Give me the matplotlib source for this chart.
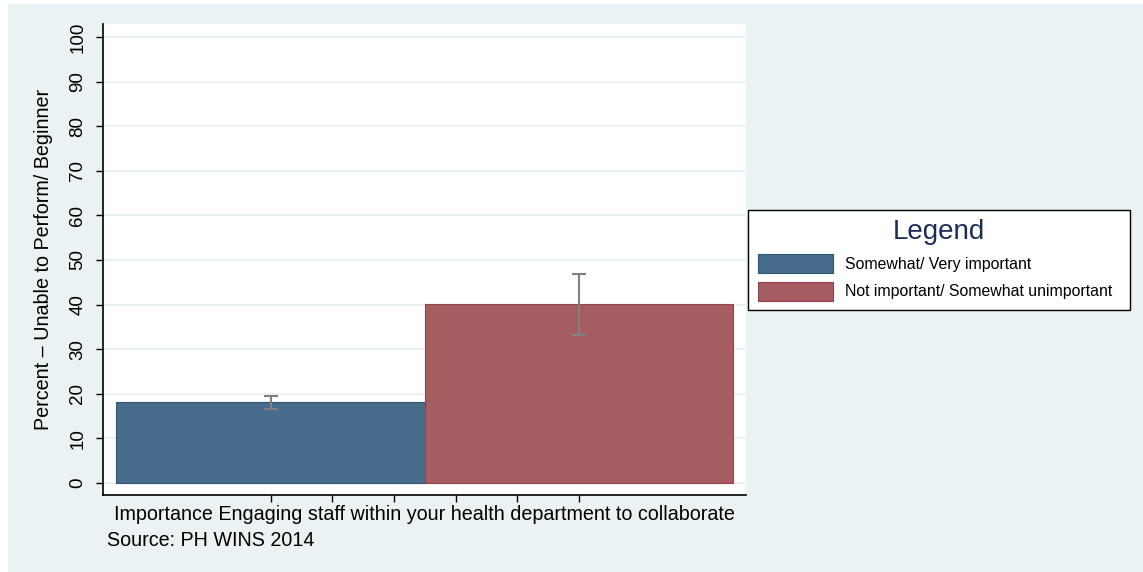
import matplotlib
matplotlib.use("Agg")
import matplotlib.pyplot as plt
from matplotlib.patches import Rectangle, Patch

plt.rcParams["font.family"] = ["Liberation Sans", "DejaVu Sans"]

# data
groups = ["Somewhat/ Very important", "Not important/ Somewhat unimportant"]
xpos = [1, 2]
values = [18.1, 40.1]
ci_low = [16.7, 33.2]
ci_high = [19.5, 46.9]
yticks = [0, 10, 20, 30, 40, 50, 60, 70, 80, 90, 100]
xticks = [1.0, 1.2, 1.4, 1.6, 1.8, 2.0]

face = ["#486c8c", "#a65d62"]
edge = ["#2f5677", "#93414a"]
bg = "#eaf2f3"

W, H = 1143, 572
fig = plt.figure(figsize=(W / 100, H / 100), dpi=100, facecolor="white")
fig.patches.append(Rectangle((8 / W, 0), 1 - 8 / W, 1 - 4 / H,
                             transform=fig.transFigure, facecolor=bg,
                             edgecolor="none", zorder=-10))

ax = fig.add_axes([103 / W, 1 - 495 / H, (746 - 103) / W, (495 - 24) / H])
ax.set_facecolor("white")

for i in range(len(values)):
    ax.bar(xpos[i], values[i], width=1.0, color=face[i], edgecolor=edge[i],
           linewidth=0.8, zorder=2, label=groups[i])
    ax.errorbar(xpos[i], values[i],
                yerr=[[values[i] - ci_low[i]], [ci_high[i] - values[i]]],
                fmt="none", ecolor="#808080", elinewidth=1.5, capsize=5,
                capthick=1.5, zorder=3)

ax.set_xlim(0.457, 2.541)
ax.set_ylim(-2.69, 102.9)
ax.set_yticks(yticks)
ax.set_yticklabels([str(t) for t in yticks], rotation=90, va="center")
ax.set_xticks(xticks)
ax.set_xticklabels([""] * len(xticks))
ax.tick_params(axis="both", length=5, width=1, color="black", labelsize=13.5)
ax.tick_params(axis="y", pad=7)
ax.yaxis.grid(True, color=bg, linewidth=1.5, zorder=0)
ax.set_axisbelow(True)
for s in ["top", "right"]:
    ax.spines[s].set_visible(False)
for s in ["left", "bottom"]:
    ax.spines[s].set_color("black")
    ax.spines[s].set_linewidth(1.2)

ax.set_ylabel("Percent \u2013 Unable to Perform/ Beginner", fontsize=14.2, labelpad=12)
ax.set_xlabel("Importance Engaging staff within your health department to collaborate",
              fontsize=14.2, labelpad=-1.5)
fig.text(107 / W, 1 - 540 / H, "Source: PH WINS 2014", fontsize=14.2,
         ha="left", va="center")

handles = [Patch(facecolor=face[i], edgecolor=edge[i], linewidth=0.8) for i in range(2)]
leg = fig.legend(handles, groups, title="Legend", loc="upper left",
                 bbox_to_anchor=(748 / W, 1 - 309 / H, 382 / W, 99 / H),
                 bbox_transform=fig.transFigure, mode="expand", borderaxespad=0,
                 fontsize=11.4, title_fontsize=20, handlelength=4.75, handleheight=1.45,
                 handletextpad=0.8, labelspacing=0.55, borderpad=0.6,
                 fancybox=False, framealpha=1, edgecolor="black")
leg.get_frame().set_linewidth(1)
leg.get_title().set_color("#1c2d57")

fig.savefig("out.png", dpi=100, facecolor=fig.get_facecolor())
